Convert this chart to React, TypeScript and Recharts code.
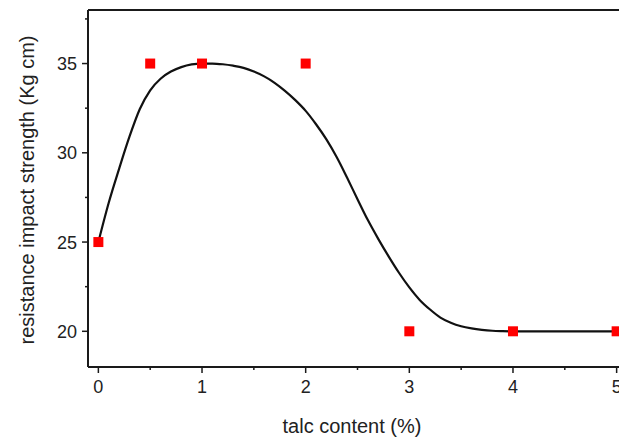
import { ComposedChart, Line, Scatter, XAxis, YAxis, ReferenceLine } from "recharts";

// measured points
const talcContent = [0, 0.5, 1, 2, 3, 4, 5];
const impactStrength = [25, 35, 35, 35, 20, 20, 20];

// fitted curve
const curveX = [
  0, 0.1, 0.2, 0.3, 0.4, 0.5, 0.6, 0.7, 0.8, 0.9, 1.0, 1.1, 1.2, 1.3, 1.4,
  1.5, 1.6, 1.7, 1.8, 1.9, 2.0, 2.1, 2.2, 2.3, 2.4, 2.5, 2.6, 2.7, 2.8, 2.9,
  3.0, 3.1, 3.2, 3.3, 3.4, 3.5, 3.6, 3.7, 3.8, 3.9, 4.0, 4.5, 5.0,
];
const curveY = [
  25.0, 27.2, 29.1, 30.9, 32.45, 33.5, 34.15, 34.55, 34.8, 34.95, 35.0, 35.0,
  34.96, 34.88, 34.76, 34.55, 34.28, 33.92, 33.47, 32.95, 32.35, 31.6, 30.75,
  29.75, 28.6, 27.4, 26.23, 25.18, 24.2, 23.28, 22.46, 21.76, 21.22, 20.77,
  20.48, 20.28, 20.16, 20.08, 20.03, 20.01, 20.0, 20.0, 20.0,
];

const xTicks = [0, 0.5, 1, 1.5, 2, 2.5, 3, 3.5, 4, 4.5, 5];
const yTicks = [20, 22.5, 25, 27.5, 30, 32.5, 35, 37.5];

const xTitle = "talc content (%)";
const yTitle = "resistance impact strength (Kg cm)";

const points = talcContent.map((x, i) => ({ x, y: impactStrength[i] }));
const curve = curveX.map((x, i) => ({ x, y: curveY[i] }));

const FONT = "'Liberation Sans', Arial, sans-serif";
const INK = "#1a1a1a";

function XTick(props: any) {
  const { x, y, payload } = props;
  const major = Number.isInteger(payload.value);
  return (
    <g>
      <line x1={x} x2={x} y1={y} y2={y + (major ? 6 : 3)} stroke={INK} strokeWidth={1.5} />
      {major && (
        <text x={x} y={y + 26} textAnchor="middle" fontSize={18} fontFamily={FONT} fill="#222">
          {payload.value}
        </text>
      )}
    </g>
  );
}

function YTick(props: any) {
  const { x, y, payload } = props;
  const major = payload.value % 5 === 0;
  return (
    <g>
      <line x1={x} x2={x - (major ? 6 : 3)} y1={y} y2={y} stroke={INK} strokeWidth={1.5} />
      {major && (
        <text x={x - 11} y={y + 6.5} textAnchor="end" fontSize={18} fontFamily={FONT} fill="#222">
          {payload.value}
        </text>
      )}
    </g>
  );
}

function Square(props: any) {
  const { cx, cy } = props;
  return <rect x={cx - 5} y={cy - 5} width={10} height={10} fill="#ff0000" />;
}

export default function App() {
  return (
    <div style={{ position: "absolute", left: 0, top: 0, width: 619, height: 437, overflow: "hidden", background: "#fff" }}>
      <ComposedChart width={640} height={437} margin={{ top: 10, right: 13, bottom: 0, left: 0 }}>
        <XAxis
          type="number"
          dataKey="x"
          domain={[-0.1, 5.1]}
          ticks={xTicks}
          interval={0}
          height={70}
          tickSize={0}
          tickMargin={0}
          tickLine={false}
          tick={<XTick />}
          axisLine={{ stroke: INK, strokeWidth: 2 }}
          label={{
            content: () => (
              <text x={352} y={433} textAnchor="middle" fontSize={20} fontFamily={FONT} fill="#222">
                {xTitle}
              </text>
            ),
          }}
        />
        <YAxis
          type="number"
          dataKey="y"
          domain={[18, 38]}
          ticks={yTicks}
          interval={0}
          width={88}
          tickSize={0}
          tickMargin={0}
          tickLine={false}
          tick={<YTick />}
          axisLine={{ stroke: INK, strokeWidth: 2 }}
          label={{
            content: () => (
              <text
                x={27}
                y={190}
                transform="rotate(-90, 27, 190)"
                textAnchor="middle"
                dominantBaseline="central"
                fontSize={20}
                fontFamily={FONT}
                fill="#222"
              >
                {yTitle}
              </text>
            ),
          }}
        />
        <ReferenceLine y={38} stroke={INK} strokeWidth={2} />
        <ReferenceLine x={5.1} stroke={INK} strokeWidth={2} />
        <Line
          data={curve}
          dataKey="y"
          type="monotone"
          stroke="#111"
          strokeWidth={2.2}
          dot={false}
          activeDot={false}
          isAnimationActive={false}
        />
        <Scatter data={points} dataKey="y" shape={<Square />} isAnimationActive={false} />
      </ComposedChart>
    </div>
  );
}
